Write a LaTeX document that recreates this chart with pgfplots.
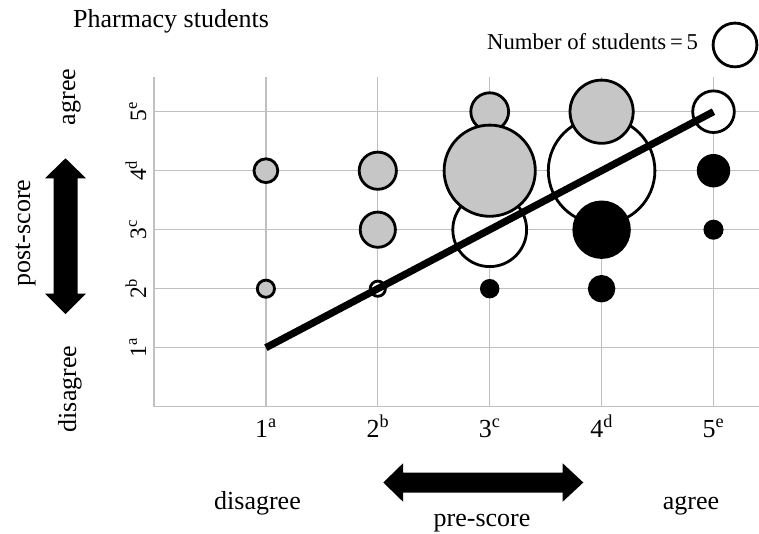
\documentclass[border=0pt]{standalone}
\usepackage{fontspec}
\setmainfont{Liberation Serif}
\usepackage{pgfplots}
\pgfplotsset{compat=1.18}
\usepackage{pgfplotstable}
\definecolor{bubgray}{RGB}{198,198,198}
\definecolor{gridgray}{RGB}{192,192,192}
\newcommand{\fs}[1]{\fontsize{#1}{#1}\selectfont}
% pre-score, post-score, outer bubble radius (px)
\pgfplotstableread{
x y r
1 4 13.3
1 2 10
2 4 20
2 3 19
3 5 20.3
3 4 47
4 5 33
}\improved
\pgfplotstableread{
x y r
2 2 9
3 3 38.3
4 4 54.7
5 5 22.2
}\same
\pgfplotstableread{
x y r
3 2 9.7
4 3 29.2
4 2 13.7
5 4 16.7
5 3 10
}\worse
\pgfplotstableread{
x y r
5.192 6.131 23.3
}\sizekey
\begin{document}
\begin{tikzpicture}
\useasboundingbox (0,0) rectangle (759pt,533pt);
\begin{axis}[
  at={(154pt,126.3pt)}, anchor=south west,
  x=111.9pt, y=59pt,
  xmin=0, xmax=5.45, ymin=0, ymax=5.58,
  axis x line*=bottom, axis y line*=left,
  axis line style={draw=gridgray, line width=1.2pt, -},
  grid=major, grid style={draw=gridgray, line width=1.2pt},
  major tick length=0pt,
  xtick={1,2,3,4,5}, ytick={1,2,3,4,5},
  xticklabels={1\textsuperscript{a},2\textsuperscript{b},3\textsuperscript{c},4\textsuperscript{d},5\textsuperscript{e}},
  yticklabels={1\textsuperscript{a},2\textsuperscript{b},3\textsuperscript{c},4\textsuperscript{d},5\textsuperscript{e}},
  xticklabel style={anchor=base, yshift=-30.3pt, font=\fs{26}, inner sep=0pt},
  yticklabel style={xshift=-8pt, rotate=90, anchor=base, font=\fs{23.5}, inner sep=0pt},
  clip=false, clip marker paths=true,
  bubble/.style={only marks, mark=*, scatter,
    scatter/use mapped color={draw=black, fill=#1, line width=2.8pt},
    mark options={line width=2.8pt},
    visualization depends on={\thisrow{r}-1.4 \as \rad},
    scatter/@pre marker code/.append style={/tikz/mark size=\rad pt}},
]
\addplot[bubble=white] table[x=x,y=y] {\same};
\addplot[bubble=bubgray] table[x=x,y=y] {\improved};
\addplot[bubble=black] table[x=x,y=y] {\worse};
\addplot[black, line width=7.2pt, no marks] coordinates {(1,1) (5,5)};
\addplot[bubble=white] table[x=x,y=y] {\sizekey};
\end{axis}
\begin{scope}[shift={(0pt,533pt)}, x=1pt, y=-1pt]
\node[anchor=base west, font=\fs{26}, inner sep=0pt] at (73,27.5) {Pharmacy students};
\node[anchor=base west, font=\fs{22.7}, inner sep=0pt] at (487,50) {Number of students\,=\,5};
\node[rotate=90, anchor=base, font=\fs{26}, inner sep=0pt] at (75,97) {agree};
\node[rotate=90, anchor=base, font=\fs{26}, inner sep=0pt] at (76,389) {disagree};
\node[rotate=90, anchor=base, font=\fs{26}, inner sep=0pt] at (30,233) {post-score};
\node[anchor=base, font=\fs{26}, inner sep=0pt] at (257.5,509) {disagree};
\node[anchor=base, font=\fs{26}, inner sep=0pt] at (691,509) {agree};
\node[anchor=base, font=\fs{26}, inner sep=0pt] at (482,526) {pre-score};
\fill[black] (383.3,482.5) -- (403,463.3) -- (403,472.5) -- (562.7,472.5) -- (562.7,463.3) -- (583.3,482.5) -- (562.7,501.7) -- (562.7,492.5) -- (403,492.5) -- (403,501.7) -- cycle;
\fill[black] (65.5,158.3) -- (86,178.3) -- (77.5,178.3) -- (77.5,293.7) -- (86,293.7) -- (65.5,314) -- (45,293.7) -- (53.5,293.7) -- (53.5,178.3) -- (45,178.3) -- cycle;
\end{scope}
\end{tikzpicture}
\end{document}
